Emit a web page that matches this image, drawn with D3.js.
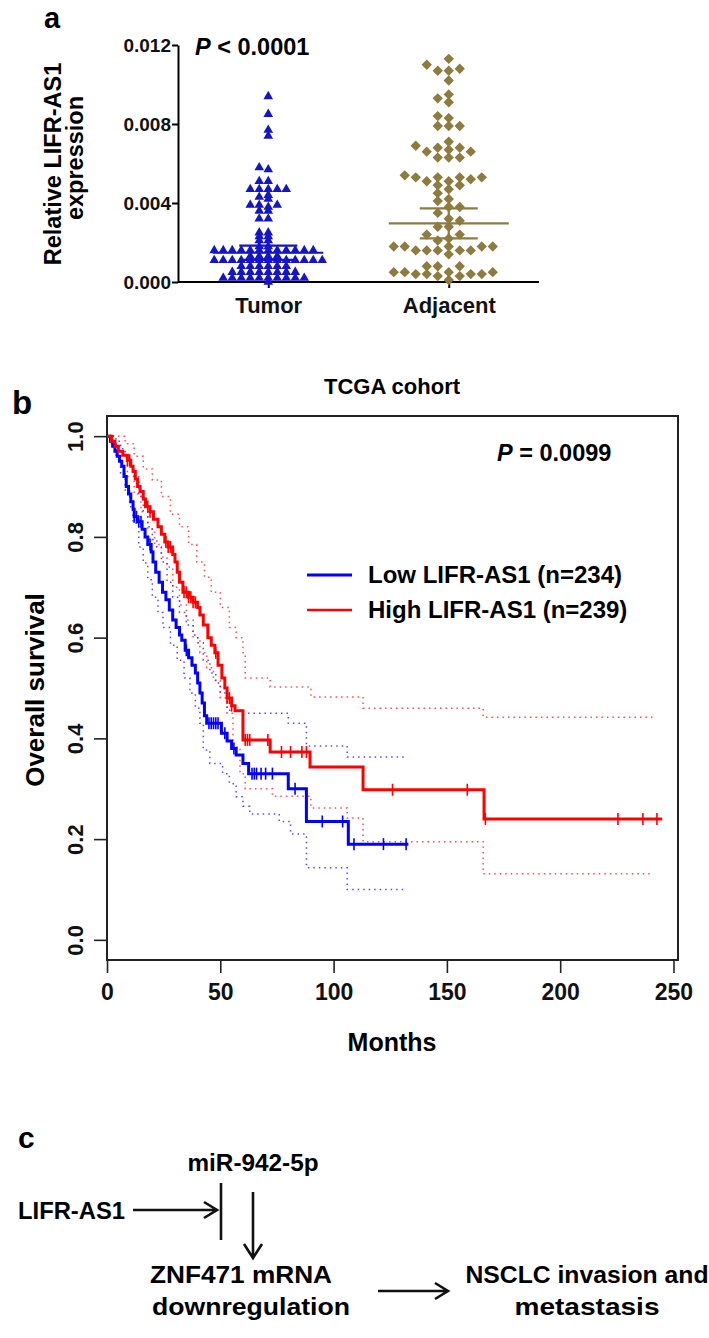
<!DOCTYPE html>
<html><head><meta charset="utf-8">
<script src="https://cdn.jsdelivr.net/npm/d3@7"></script>
<style>
html,body{margin:0;padding:0;background:#fff;}
svg{display:block;font-family:"Liberation Sans",Arial,sans-serif;font-weight:bold;}
</style></head>
<body>
<svg id="chart" width="709" height="1338"></svg>
<script>
// ---------- Panel a data ----------
const groups = ["Tumor", "Adjacent"];
const yTicksA = [0, 0.004, 0.008, 0.012];
const tumor = [0.0094,0.0085,0.0077,0.0074,0.0058,0.0057,0.0051,0.0051,
  0.0047,0.0047,0.0047,0.0047,0.0047,0.0044,0.0043,0.0042,0.0039,0.0039,0.0039,0.0038,
  0.0036,0.0036,0.0032,0.0032,0.0025,0.0025,0.0023,0.0023,0.0021,0.0021,0.0018,0.0018,
  0.0016,0.0016,0.0016,0.0016,0.0016,0.0016,0.0016,0.0016,0.0016,0.0016,0.0016,0.0016,
  0.0013,0.0013,0.0013,0.0013,
  0.0011,0.0011,0.0011,0.0011,0.0011,0.0011,0.0011,0.0011,0.0011,0.0011,0.0011,0.0011,0.0011,
  0.0008,0.0008,0.0008,0.0008,0.0008,0.0008,
  0.0005,0.0005,0.0005,0.0005,0.0005,0.0005,0.0005,0.0005,
  0.0002,0.0002,0.0002,0.0002,0.0002,0.0002,0.0002,0.0002,0.0002,0.0002,0.0000];
const adjacent = [0.0113,0.0110,0.0107,0.0107,0.0108,0.0102,0.0093,0.0095,0.0091,0.0084,0.0083,
  0.0079,0.0079,0.0079,0.0071,0.0069,0.0068,0.0066,0.0063,0.0063,0.0063,0.0066,0.0067,0.0068,
  0.0053,0.0053,0.0053,0.0051,0.0049,0.0047,0.0049,0.0051,0.0052,0.0053,0.0054,
  0.0045,0.0042,0.0041,0.0038,0.0038,0.0035,0.0032,0.0031,0.0028,0.0028,0.0024,0.0024,0.0022,
  0.0021,0.0018,0.0018,0.0016,0.0016,0.0016,0.0014,0.0016,0.0016,0.0018,0.0018,0.0018,
  0.0008,0.0008,0.0005,0.0005,0.0005,0.0005,0.0003,0.0003,0.0004,0.0004,0.0004,0.0004,0.0008,0.0001];
const groupMeans = [0.00148, 0.00297];
const groupSEMs = [0.00036, 0.00076];

// ---------- Panel b data ----------
const xTicksB = [0, 50, 100, 150, 200, 250];
const yTicksB = [0, 0.2, 0.4, 0.6, 0.8, 1.0];
const lowCurve = [[0,1.0],[1.5,0.99],[2.5,0.98],[3.5,0.97],[4.5,0.96],[5.5,0.95],[6.5,0.94],[7.5,0.92],
  [8.5,0.90],[9.5,0.885],[10.5,0.87],[11.5,0.855],[12,0.84],[13.5,0.83],[15.5,0.815],[16.8,0.80],
  [18,0.785],[19.5,0.77],[20.3,0.75],[21.5,0.73],[23,0.71],[24.5,0.69],[26,0.675],[27.5,0.655],
  [29,0.635],[30.5,0.62],[32,0.605],[33,0.595],[34.5,0.575],[36,0.56],[37.5,0.545],[39,0.53],
  [40,0.51],[41,0.49],[42,0.47],[43,0.445],[44,0.43],[50.5,0.41],[53,0.395],[55,0.38],[57,0.367],
  [60,0.35],[62.5,0.33],[80,0.30],[88,0.235],[106.5,0.19],[133,0.19]];
const lowCensor = [12,13,14,15,19,35,45,46,47,48,49,52,56,64,65,66,68,70,73,83,95,104,109,122,132];
const lowUpper = [[0,1.0],[2,1.0],[4,0.99],[6,0.975],[8,0.96],[10,0.94],[12,0.92],[14,0.88],[16,0.85],
  [18,0.82],[20,0.795],[22,0.78],[24,0.75],[26.5,0.71],[29,0.68],[32,0.65],[35,0.625],[38,0.605],
  [40,0.59],[42.5,0.555],[45.4,0.53],[48,0.51],[50,0.49],[53,0.456],[58.7,0.45],[80,0.43],[88,0.385],
  [106,0.363],[132,0.363]];
const lowLower = [[0,1.0],[2,0.985],[4,0.96],[6,0.925],[8,0.893],[10,0.86],[11.5,0.827],[14,0.78],
  [16,0.748],[18,0.715],[20,0.68],[22.5,0.65],[24.7,0.62],[28,0.585],[31,0.555],[34,0.52],[36.6,0.49],
  [39,0.46],[41,0.43],[42.5,0.377],[45.4,0.35],[51,0.33],[54,0.31],[57,0.284],[60,0.265],[63,0.25],
  [76,0.235],[81,0.21],[88,0.143],[106,0.10],[131,0.10]];
const highCurve = [[0,1.0],[2,0.99],[3.5,0.98],[5,0.97],[7,0.962],[9,0.952],[10.5,0.94],[11.5,0.93],
  [12.5,0.915],[13.5,0.90],[14.6,0.89],[16,0.875],[17,0.86],[19,0.85],[20.5,0.835],[22.5,0.82],
  [24,0.805],[25.5,0.79],[27,0.78],[29,0.765],[30,0.75],[31,0.73],[32,0.71],[33.5,0.69],[36,0.68],
  [38,0.67],[40,0.66],[41,0.645],[42.5,0.625],[44.5,0.60],[46,0.585],[47.6,0.57],[49,0.545],
  [50.7,0.52],[52,0.50],[53,0.48],[55,0.465],[56.5,0.455],[60,0.397],[72,0.373],[89.6,0.343],
  [113,0.298],[166.4,0.24],[245,0.24]];
const highCensor = [9,10,18,19,26,27,28,34,35,36,37,38,39,48,53,54,55,61,62,63,71,77,81,86,88,126,159,167,225.5,236.5,242.7];
const highUpper = [[0,1.0],[4,1.0],[8,0.985],[12,0.96],[16,0.935],[20,0.913],[24,0.88],[28,0.845],
  [32,0.82],[36,0.785],[39.6,0.75],[43,0.72],[46,0.69],[50,0.66],[54,0.62],[57,0.6],[60,0.57],
  [61,0.52],[72,0.502],[90,0.482],[113,0.46],[166,0.442],[242,0.442]];
const highLower = [[0,1.0],[3,0.98],[6,0.95],[9,0.92],[12,0.885],[15,0.85],[18,0.815],[21,0.785],
  [24,0.76],[26.5,0.74],[29,0.7],[32,0.665],[35,0.635],[38,0.6],[41,0.57],[44,0.54],[47,0.515],
  [50,0.48],[53,0.45],[55.6,0.383],[58.7,0.33],[61,0.30],[73,0.285],[90,0.262],[106,0.242],
  [113,0.195],[166,0.131],[241,0.131]];
const legendLabels = ["Low LIFR-AS1 (n=234)", "High LIFR-AS1 (n=239)"];

const svg = d3.select("#chart");
const BLUE = "#0000ff", RED = "#ff0000";
const TBLUE = "#1414c8", OLIVE = "#8d7b3f";
const FONT = "Liberation Sans, Arial, sans-serif";

// ================= Panel a =================
const ya = d3.scaleLinear().domain([0, 0.012]).range([282, 45]);
const xa = d3.scalePoint().domain(groups).range([178, 539]).padding(0.5);
const ga = svg.append("g");

ga.append("text").attr("x", 44).attr("y", 28).attr("font-size", 29).text("a");

const yAxA = d3.axisLeft(ya).tickValues(yTicksA).tickFormat(d3.format(".3f")).tickSize(6).tickSizeOuter(0);
const yg = ga.append("g").attr("transform", "translate(178,0)").call(yAxA);
yg.select(".domain").attr("stroke-width", 2);
yg.selectAll(".tick line").attr("stroke-width", 2);
yg.selectAll(".tick text").attr("font-size", 19).attr("font-weight", "bold").attr("fill", "#111")
  .attr("font-family", FONT).attr("x", -7);

const xAxA = d3.axisBottom(xa).tickSize(6).tickSizeOuter(0);
const xg = ga.append("g").attr("transform", "translate(0,282)").call(xAxA);
xg.select(".domain").attr("stroke-width", 2).attr("d", "M178,0H539");
xg.selectAll(".tick line").attr("stroke-width", 2);
xg.selectAll(".tick text").attr("font-size", 22).attr("font-weight", "bold").attr("fill", "#111")
  .attr("font-family", FONT).attr("dy", "1.0em");

ga.append("text").attr("transform", "translate(61,164) rotate(-90)").attr("text-anchor", "middle")
  .attr("font-size", 23.5).text("Relative LIFR-AS1");
ga.append("text").attr("transform", "translate(83,158) rotate(-90)").attr("text-anchor", "middle")
  .attr("font-size", 23.5).text("expression");

const pa = ga.append("text").attr("x", 195).attr("y", 55).attr("font-size", 23.5);
pa.append("tspan").attr("font-style", "italic").text("P");
pa.append("tspan").text(" < 0.0001");

// beeswarm layout (positions computed from values)
function swarm(values, cx, w, h) {
  const sorted = values.map(v => ({v, y: ya(v)})).sort((a, b) => b.y - a.y);
  const placed = [];
  sorted.forEach(p => {
    for (let k = 0; k < 400; k++) {
      const off = (k % 2 === 0 ? 1 : -1) * Math.ceil(k / 2);
      const x = cx + off;
      const hit = placed.some(q => Math.abs(q.x - x) < w && Math.abs(q.y - p.y) < h);
      if (!hit) { p.x = x; break; }
    }
    placed.push(p);
  });
  return placed;
}

const triPts = swarm(tumor, xa("Tumor"), 8.6, 3.5);
const triSym = d3.symbol().type(d3.symbolTriangle).size(40);
ga.append("g").selectAll("path").data(triPts).join("path")
  .attr("transform", d => `translate(${d.x},${d.y})`).attr("d", triSym()).attr("fill", TBLUE);

const diaPts = swarm(adjacent, xa("Adjacent"), 10.5, 7);
const diaPath = "M0,-5.2L5.2,0L0,5.2L-5.2,0Z";
ga.append("g").selectAll("path").data(diaPts).join("path")
  .attr("transform", d => `translate(${d.x},${d.y})`).attr("d", diaPath).attr("fill", OLIVE);

// mean and SEM
const meanHalf = [55, 60], semHalf = 29;
groups.forEach((g, i) => {
  const cx = xa(g), col = i === 0 ? TBLUE : OLIVE;
  const m = groupMeans[i], s = groupSEMs[i];
  const gg = ga.append("g").attr("stroke", col).attr("stroke-width", 2.2);
  gg.append("line").attr("x1", cx - meanHalf[i]).attr("x2", cx + meanHalf[i]).attr("y1", ya(m)).attr("y2", ya(m));
  gg.append("line").attr("x1", cx).attr("x2", cx).attr("y1", ya(m - s)).attr("y2", ya(m + s));
  [m - s, m + s].forEach(v => gg.append("line").attr("x1", cx - semHalf).attr("x2", cx + semHalf)
    .attr("y1", ya(v)).attr("y2", ya(v)));
});

// ================= Panel b =================
const xb = d3.scaleLinear().domain([0, 252]).range([107, 678]);
const yb = d3.scaleLinear().domain([-0.04, 1.04]).range([960, 416]);
const gb = svg.append("g");

gb.append("text").attr("x", 12).attr("y", 414).attr("font-size", 33).text("b");
gb.append("text").attr("x", 392).attr("y", 394).attr("text-anchor", "middle").attr("font-size", 22).text("TCGA cohort");

gb.append("rect").attr("x", xb(0)).attr("y", yb(1.04)).attr("width", xb(252) - xb(0)).attr("height", yb(-0.04) - yb(1.04))
  .attr("fill", "none").attr("stroke", "#222").attr("stroke-width", 2);

const yAxB = d3.axisLeft(yb).tickValues(yTicksB).tickFormat(d3.format(".1f")).tickSize(13).tickSizeOuter(0);
const ygb = gb.append("g").attr("transform", `translate(${xb(0)},0)`).call(yAxB);
ygb.select(".domain").remove();
ygb.selectAll(".tick line").attr("stroke-width", 1.6).attr("stroke", "#222");
ygb.selectAll(".tick text").attr("font-size", 22).attr("font-weight", "bold").attr("fill", "#111")
  .attr("font-family", FONT)
  .attr("text-anchor", "middle").attr("x", 0).attr("dy", 0)
  .attr("transform", "translate(-32,0) rotate(-90)").attr("y", 0).attr("dominant-baseline", "central");

const xAxB = d3.axisBottom(xb).tickValues(xTicksB).tickSize(13).tickSizeOuter(0);
const xgb = gb.append("g").attr("transform", `translate(0,${yb(-0.04)})`).call(xAxB);
xgb.select(".domain").attr("d", `M${xb(0)},0H${xb(250)}`).attr("stroke-width", 2).attr("stroke", "#222");
xgb.selectAll(".tick line").attr("stroke-width", 1.6).attr("stroke", "#222");
xgb.selectAll(".tick text").attr("font-size", 23).attr("font-weight", "bold").attr("fill", "#111")
  .attr("font-family", FONT).attr("y", 20).attr("dy", "0.85em");

gb.append("text").attr("x", 392).attr("y", 1051).attr("text-anchor", "middle").attr("font-size", 25).text("Months");
gb.append("text").attr("transform", "translate(44,690) rotate(-90)").attr("text-anchor", "middle")
  .attr("font-size", 26).text("Overall survival");

const pb = gb.append("text").attr("x", 497).attr("y", 461).attr("font-size", 23.5);
pb.append("tspan").attr("font-style", "italic").text("P");
pb.append("tspan").text(" = 0.0099");

const step = d3.line().x(d => xb(d[0])).y(d => yb(d[1])).curve(d3.curveStepAfter);

[[lowUpper, BLUE], [lowLower, BLUE], [highUpper, RED], [highLower, RED]].forEach(([d, c]) => {
  gb.append("path").attr("d", step(d)).attr("fill", "none").attr("stroke", c).attr("stroke-opacity", 0.7)
    .attr("stroke-width", 1.5).attr("stroke-dasharray", "1.5,4");
});

function survAt(curve, t) {
  let s = curve[0][1];
  for (const p of curve) { if (p[0] <= t) s = p[1]; else break; }
  return s;
}
[[lowCurve, lowCensor, BLUE], [highCurve, highCensor, RED]].forEach(([cv, cens, c]) => {
  gb.append("path").attr("d", step(cv)).attr("fill", "none").attr("stroke", c).attr("stroke-width", 3);
  gb.append("g").selectAll("line").data(cens).join("line")
    .attr("x1", d => xb(d)).attr("x2", d => xb(d))
    .attr("y1", d => yb(survAt(cv, d)) - 6).attr("y2", d => yb(survAt(cv, d)) + 6)
    .attr("stroke", c).attr("stroke-width", 1.6);
});

legendLabels.forEach((lab, i) => {
  const y = 575 + i * 35;
  gb.append("line").attr("x1", 307).attr("x2", 352).attr("y1", y).attr("y2", y)
    .attr("stroke", i === 0 ? BLUE : RED).attr("stroke-width", i === 0 ? 3 : 2.5);
  gb.append("text").attr("x", 368).attr("y", y + 8).attr("font-size", 24).text(lab);
});

// ================= Panel c =================
const gc = svg.append("g");
gc.append("text").attr("x", 18).attr("y", 1148).attr("font-size", 30).text("c");
const cTexts = [
  {t: "miR-942-5p", x: 253, y: 1171, w: 131, a: "middle"},
  {t: "LIFR-AS1", x: 18, y: 1219, w: 107, a: "start"},
  {t: "ZNF471 mRNA", x: 241, y: 1283, w: 182, a: "middle"},
  {t: "downregulation", x: 251, y: 1315, w: 198, a: "middle"},
  {t: "NSCLC invasion and", x: 587, y: 1283, w: 243, a: "middle"},
  {t: "metastasis", x: 587, y: 1315, w: 145, a: "middle"}
];
cTexts.forEach(d => gc.append("text").attr("x", d.x).attr("y", d.y).attr("text-anchor", d.a)
  .attr("font-size", 23).attr("textLength", d.w).attr("lengthAdjust", "spacingAndGlyphs").text(d.t));

const arr = gc.append("g").attr("stroke", "#111").attr("stroke-width", 2.6).attr("fill", "none");
arr.append("path").attr("d", "M253,1192V1257M244,1244L253,1258L262,1244");
arr.append("path").attr("d", "M133,1210H216M204,1202L217,1210L204,1218");
arr.append("path").attr("d", "M221,1183V1240");
arr.append("path").attr("d", "M378,1291H447M435,1283L448,1291L435,1299");
</script>
</body></html>
